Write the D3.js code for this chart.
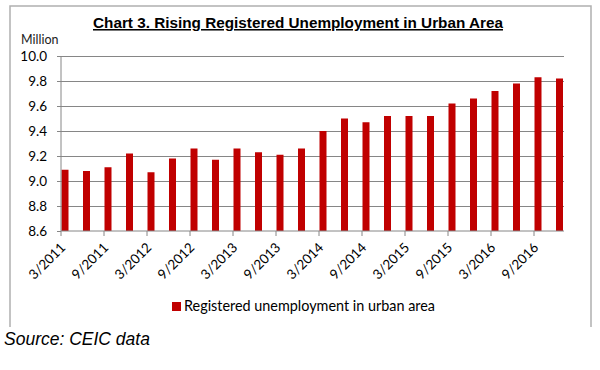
<!DOCTYPE html>
<html>
<head>
<meta charset="utf-8">
<script src="https://cdn.jsdelivr.net/npm/d3@7"></script>
<style>
  body { margin: 0; background: #fff; }
  .tick text { font-family: Lato, 'Open Sans', sans-serif; font-size: 13.5px; fill: #000; }
</style>
</head>
<body>
<div class="content"></div>
<script>
const w = 600;
const h = 370;

const barColor = '#c00000';
const gridColor = '#868686';

const quarters = [
	'3/2011', '6/2011', '9/2011', '12/2011',
	'3/2012', '6/2012', '9/2012', '12/2012',
	'3/2013', '6/2013', '9/2013', '12/2013',
	'3/2014', '6/2014', '9/2014', '12/2014',
	'3/2015', '6/2015', '9/2015', '12/2015',
	'3/2016', '6/2016', '9/2016', '12/2016'
];
const unemployment = [
	9.09, 9.08, 9.11, 9.22,
	9.07, 9.18, 9.26, 9.17,
	9.26, 9.23, 9.21, 9.26,
	9.40, 9.50, 9.47, 9.52,
	9.52, 9.52, 9.62, 9.66,
	9.72, 9.78, 9.83, 9.82
];
const yTicks = [8.6, 8.8, 9.0, 9.2, 9.4, 9.6, 9.8, 10.0];
const xLabels = quarters.filter((d, i) => i % 2 === 0);

const plotLeft = 61;
const plotRight = 564;
const plotTop = 56;
const plotBottom = 231;

const svg = d3.select('.content').append('svg')
	.attr('width', w)
	.attr('height', h);

// frame
svg.append('path')
	.attr('d', 'M10,327 V6 H591 V327')
	.attr('fill', 'none')
	.attr('stroke', '#b0b0b0')
	.attr('stroke-width', 1.5);

svg.append('text')
	.attr('x', 298)
	.attr('y', 28)
	.attr('text-anchor', 'middle')
	.style('font-family', 'Liberation Sans, Arial, sans-serif')
	.style('font-weight', 'bold')
	.style('font-size', '15.3px')
	.style('text-decoration', 'underline')
	.text('Chart 3. Rising Registered Unemployment in Urban Area');

svg.append('text')
	.attr('x', 21)
	.attr('y', 44)
	.style('font-family', 'Lato, sans-serif')
	.style('font-size', '12.5px')
	.attr('fill', '#222')
	.text('Million');

const xScale = d3.scaleBand()
	.domain(quarters)
	.range([plotLeft, plotLeft + quarters.length * 21.5])
	.padding(0);

const yScale = d3.scaleLinear()
	.domain([8.6, 10.0])
	.range([plotBottom, plotTop]);

// gridlines
const grid = svg.append('g')
	.attr('transform', 'translate(' + plotLeft + ',0)')
	.call(d3.axisLeft(yScale).tickValues(yTicks.slice(1)).tickSize(-(plotRight - plotLeft)).tickFormat(''));
grid.select('.domain').remove();
grid.selectAll('line').attr('stroke', gridColor);

svg.selectAll('rect.bar')
	.data(unemployment)
	.enter()
	.append('rect')
	.attr('class', 'bar')
	.attr('x', (d, i) => xScale(quarters[i]) + 0.5)
	.attr('y', (d) => yScale(d))
	.attr('width', 7)
	.attr('height', (d) => plotBottom - yScale(d))
	.attr('fill', barColor);

const yAxis = svg.append('g')
	.attr('transform', 'translate(' + plotLeft + ',0)')
	.call(d3.axisLeft(yScale).tickValues(yTicks).tickSize(4).tickPadding(10).tickFormat(d3.format('.1f')));
yAxis.select('.domain').remove();
yAxis.selectAll('line').attr('stroke', gridColor);

const xAxis = svg.append('g')
	.attr('transform', 'translate(' + (-xScale.bandwidth() / 2) + ',' + plotBottom + ')')
	.call(d3.axisBottom(xScale).tickValues(xLabels).tickSize(5));
xAxis.select('.domain').remove();
xAxis.selectAll('line').attr('stroke', gridColor);
xAxis.selectAll('text')
	.attr('text-anchor', 'end')
	.attr('transform', 'translate(2,14) rotate(-45)')
	.attr('dy', '0.35em')
	.attr('y', 0);

svg.append('line')
	.attr('x1', plotLeft).attr('x2', plotRight)
	.attr('y1', plotBottom).attr('y2', plotBottom)
	.attr('stroke', gridColor);
svg.append('line')
	.attr('x1', plotLeft).attr('x2', plotLeft)
	.attr('y1', plotTop).attr('y2', plotBottom)
	.attr('stroke', gridColor);

// legend
svg.append('rect')
	.attr('x', 172)
	.attr('y', 302)
	.attr('width', 9)
	.attr('height', 9)
	.attr('fill', barColor);
svg.append('text')
	.attr('x', 184)
	.attr('y', 311)
	.style('font-family', 'Lato, sans-serif')
	.style('font-size', '14.4px')
	.text('Registered unemployment in urban area');

svg.append('text')
	.attr('x', 4)
	.attr('y', 345)
	.style('font-family', 'Liberation Sans, Arial, sans-serif')
	.style('font-style', 'italic')
	.style('font-size', '17.5px')
	.text('Source: CEIC data');
</script>
</body>
</html>
